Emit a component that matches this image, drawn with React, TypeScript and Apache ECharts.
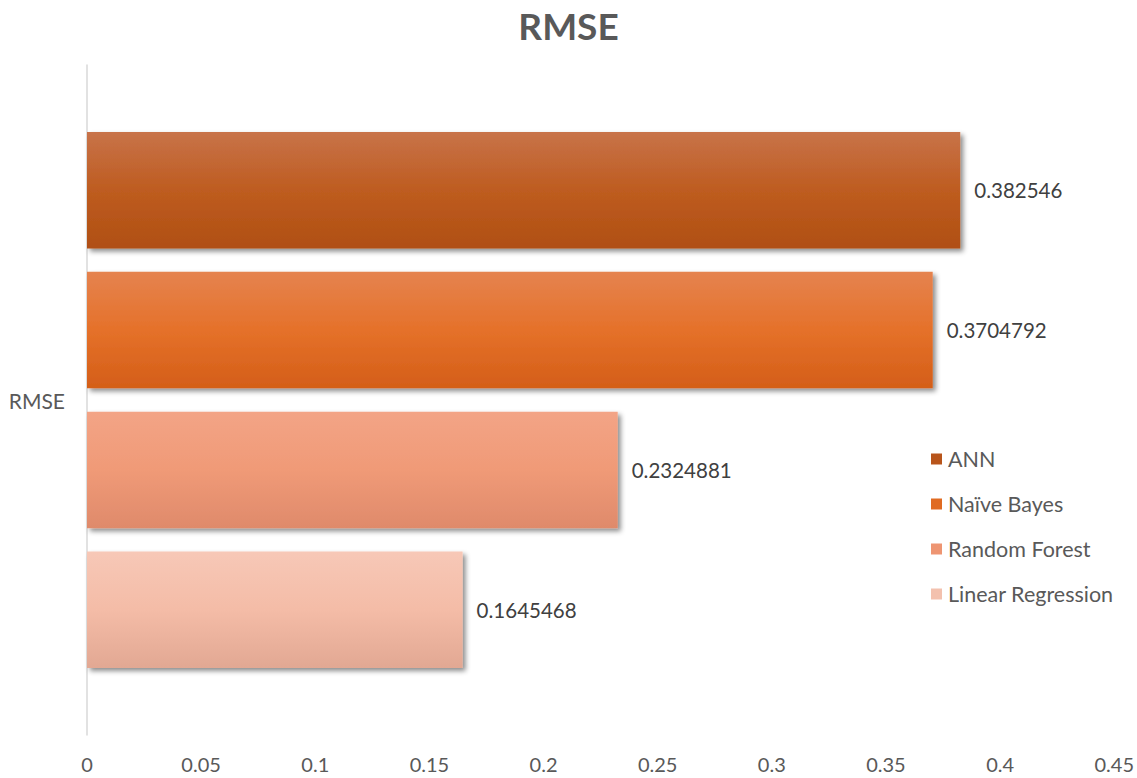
import React, { useEffect, useRef } from "react";
import * as echarts from "echarts";

// Chart data
const categories = ["RMSE"];
const seriesNames = ["ANN", "Naïve Bayes", "Random Forest", "Linear Regression"];
const seriesValues = [0.382546, 0.3704792, 0.2324881, 0.1645468];
const valueLabels = ["0.382546", "0.3704792", "0.2324881", "0.1645468"];
const xTicks = { min: 0, max: 0.45, interval: 0.05 };

// Vertical gradient stops (top, middle, bottom) for each series
const gradients = [
  ["#C87349", "#BE5C20", "#B04F13"],
  ["#E5834F", "#E5712A", "#D45E18"],
  ["#F3A486", "#F09A77", "#DF8A6B"],
  ["#F7C8B7", "#F4BCA7", "#E2A893"],
];
const legendColors = ["#B8551B", "#E06B22", "#EE9572", "#F3C1AE"];

const FONT = "Lato";

export default function App() {
  const ref = useRef<HTMLDivElement>(null);

  useEffect(() => {
    if (!ref.current) return;
    const chart = echarts.init(ref.current, undefined, { renderer: "svg" });

    const series = seriesNames.map((name, i) => ({
      name,
      type: "bar" as const,
      data: [seriesValues[i]],
      barGap: "20%",
      barCategoryGap: "20%",
      itemStyle: {
        color: new echarts.graphic.LinearGradient(0, 0, 0, 1, [
          { offset: 0, color: gradients[i][0] },
          { offset: 0.5, color: gradients[i][1] },
          { offset: 1, color: gradients[i][2] },
        ]),
        shadowColor: "rgba(0,0,0,0.45)",
        shadowBlur: 5,
        shadowOffsetX: 3,
        shadowOffsetY: 3,
      },
      label: {
        show: true,
        position: "right" as const,
        distance: 14,
        formatter: () => valueLabels[i],
        color: "#404040",
        fontFamily: FONT,
        fontSize: 20.5,
      },
    }));

    chart.setOption({
      animation: false,
      backgroundColor: "#FFFFFF",
      title: {
        text: "RMSE",
        left: "center",
        top: 2,
        textStyle: {
          color: "#595959",
          fontFamily: FONT,
          fontWeight: "bold",
          fontSize: 37,
        },
      },
      legend: {
        orient: "vertical",
        left: 926,
        top: 443,
        itemWidth: 11,
        itemHeight: 11,
        itemGap: 23,
        icon: "rect",
        data: seriesNames.map((name, i) => ({
          name,
          itemStyle: { color: legendColors[i], shadowBlur: 0 },
        })),
        textStyle: {
          color: "#595959",
          fontFamily: FONT,
          fontSize: 21.5,
          padding: [0, 0, 0, 1],
        },
      },
      grid: {
        left: 87,
        right: 22,
        top: 65,
        bottom: 43,
        containLabel: false,
      },
      xAxis: {
        type: "value",
        min: xTicks.min,
        max: xTicks.max,
        interval: xTicks.interval,
        axisLine: { show: false },
        axisTick: { show: false },
        splitLine: { show: false },
        axisLabel: {
          color: "#595959",
          fontFamily: FONT,
          fontSize: 20,
          margin: 19,
          formatter: (v: number) => String(parseFloat(v.toFixed(2))),
        },
      },
      yAxis: {
        type: "category",
        data: categories,
        axisLine: { show: true, lineStyle: { color: "#D9D9D9", width: 1.5 } },
        axisTick: { show: false },
        axisLabel: {
          color: "#595959",
          fontFamily: FONT,
          fontSize: 21,
          margin: 22,
        },
      },
      series,
    });

    return () => chart.dispose();
  }, []);

  return (
    <div
      ref={ref}
      style={{ position: "fixed", left: 0, top: 0, width: 1137, height: 778 }}
    />
  );
}
